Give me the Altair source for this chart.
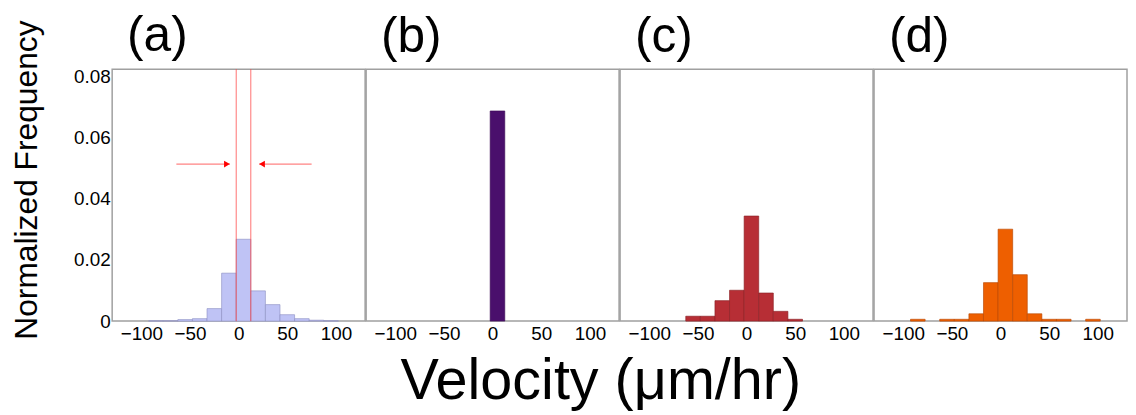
import altair as alt
import pandas as pd

# ---- data ----
BIN_LEFT = [-92.5, -77.5, -62.5, -47.5, -32.5, -17.5, -2.5, 12.5, 27.5, 42.5, 57.5, 72.5, 87.5]
BIN_WIDTH = 15
FREQ_A = [0.0001, 0.0001, 0.0005, 0.0008, 0.0041, 0.0157, 0.0268, 0.0099, 0.0054, 0.0021, 0.0008, 0.0003, 0.0001]
FREQ_B = [0, 0, 0, 0, 0, 0, 0.0688, 0, 0, 0, 0, 0, 0]
FREQ_C = [0, 0, 0.0016, 0.0016, 0.0067, 0.0101, 0.0344, 0.0092, 0.0032, 0.0006, 0, 0, 0]
FREQ_D = [0.0006, 0, 0.0006, 0.0006, 0.0024, 0.0126, 0.0301, 0.0152, 0.0024, 0.0006, 0.0006, 0, 0.0006]
PANEL_LABELS = ["(a)", "(b)", "(c)", "(d)"]
X_TICKS = [-100, -50, 0, 50, 100]
Y_TICKS = [0, 0.02, 0.04, 0.06, 0.08]
REF_LINES = [-2.5, 12.5]
ARROW_TAIL = [-64, 75]
ARROW_HEAD = [-9, 21]
ARROW_TIP_MARK = [-12, 24]
ARROW_SHAPE = ["triangle-right", "triangle-left"]
ARROW_Y = 0.0514

FILLS = ["#bfc3f5", "#4a0f6c", "#b72e35", "#ee5f00"]
STROKES = ["#8f92c4", "#3a0a55", "#8a1f25", "#b84800"]
FONT = "Liberation Sans"

xscale = alt.Scale(domain=[-130, 130], nice=False, zero=False)
yscale = alt.Scale(domain=[0, 0.0825], nice=False)


def panel(i, freqs):
    df = pd.DataFrame({
        "x0": BIN_LEFT,
        "x1": [b + BIN_WIDTH for b in BIN_LEFT],
        "f": freqs,
    })
    df = df[df["f"] > 0]
    if i == 0:
        yaxis = alt.Axis(values=Y_TICKS,
                         labelExpr="datum.value == 0 ? '0' : format(datum.value, '.2f')",
                         title=None, labelPadding=2)
    else:
        yaxis = None
    if i == 1:
        xaxis = alt.Axis(values=X_TICKS, title="Velocity (μm/hr)", titleFontSize=58,
                         titleFont=FONT, titleFontWeight="normal", titleColor="black",
                         titleAngle=0, titleX=236, titleY=78, titleAlign="center",
                         titleBaseline="alphabetic", labelPadding=4)
    else:
        xaxis = alt.Axis(values=X_TICKS, title=None, labelPadding=4)
    bars = alt.Chart(df).mark_rect(fill=FILLS[i], stroke=STROKES[i], strokeWidth=0.8,
                                   strokeOpacity=0.8).encode(
        x=alt.X("x0:Q", scale=xscale, axis=xaxis),
        x2="x1:Q",
        y=alt.Y("f:Q", scale=yscale, axis=yaxis),
        y2=alt.datum(0),
    )
    layers = [bars]
    if i == 0:
        rl = pd.DataFrame({"v": REF_LINES})
        rules = alt.Chart(rl).mark_rule(color="#ff4040", opacity=0.75, strokeWidth=1).encode(
            x=alt.X("v:Q", scale=xscale))
        ar = pd.DataFrame({"tail": ARROW_TAIL, "head": ARROW_HEAD, "tip": ARROW_TIP_MARK,
                           "shape": ARROW_SHAPE, "y": [ARROW_Y] * 2})
        shafts = alt.Chart(ar).mark_rule(color="#ff3030", opacity=0.6, strokeWidth=1.2).encode(
            x=alt.X("tail:Q", scale=xscale), x2="head:Q",
            y=alt.Y("y:Q", scale=yscale))
        heads = alt.Chart(ar).mark_point(filled=True, color="#ff0000", opacity=1, size=45).encode(
            x=alt.X("tip:Q", scale=xscale), y=alt.Y("y:Q", scale=yscale),
            shape=alt.Shape("shape:N", scale=None))
        layers += [rules, shafts, heads]
    return alt.layer(*layers).properties(
        width=255, height=254,
        title=alt.TitleParams(PANEL_LABELS[i], anchor="start", frame="group", fontSize=50,
                              font=FONT, fontWeight="normal", color="black", dx=15, offset=7),
    )


chart = alt.hconcat(
    panel(0, FREQ_A), panel(1, FREQ_B), panel(2, FREQ_C), panel(3, FREQ_D),
    spacing=1, bounds="flush",
).properties(
    padding={"left": 3, "top": 0, "right": 0, "bottom": 0}, background="white",
    title=alt.TitleParams("Normalized Frequency", orient="left", anchor="middle",
                          fontSize=32, font=FONT, fontWeight="normal", color="black",
                          offset=29, dx=31),
).configure_view(
    stroke="#a0a0a0", strokeWidth=1.5,
).configure_axis(
    domain=False, ticks=False, grid=False, labelFont=FONT, labelFontSize=19,
    labelColor="black",
)

chart.save("out.html", embed_options={"renderer": "svg", "actions": False})
